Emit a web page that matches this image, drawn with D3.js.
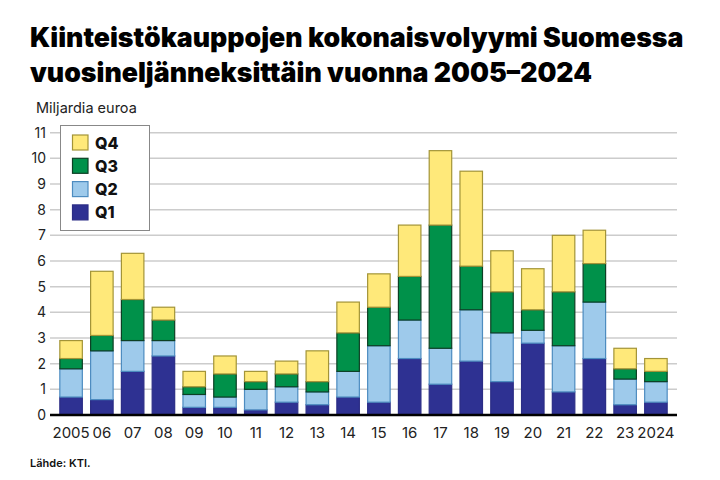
<!DOCTYPE html>
<html><head><meta charset="utf-8">
<script src="https://cdn.jsdelivr.net/npm/d3@7"></script>
<style>body{margin:0;background:#fff}svg{display:block}</style>
</head><body>
<svg id="c" width="720" height="480"></svg>
<script>
const years = ["2005","06","07","08","09","10","11","12","13","14","15","16","17","18","19","20","21","22","23","2024"];
const q1 = [0.7,0.6,1.7,2.3,0.3,0.3,0.2,0.5,0.4,0.7,0.5,2.2,1.2,2.1,1.3,2.8,0.9,2.2,0.4,0.5];
const q2 = [1.1,1.9,1.2,0.6,0.5,0.4,0.8,0.6,0.5,1.0,2.2,1.5,1.4,2.0,1.9,0.5,1.8,2.2,1.0,0.8];
const q3 = [0.4,0.6,1.6,0.8,0.3,0.9,0.3,0.5,0.4,1.5,1.5,1.7,4.8,1.7,1.6,0.8,2.1,1.5,0.4,0.4];
const q4 = [0.7,2.5,1.8,0.5,0.6,0.7,0.4,0.5,1.2,1.2,1.3,2.0,2.9,3.7,1.6,1.6,2.2,1.3,0.8,0.5];
const yTicks = [0,1,2,3,4,5,6,7,8,9,10,11];
const keys = ["Q1","Q2","Q3","Q4"];
const fills = {Q1:"#2e3192",Q2:"#9ecaeb",Q3:"#00914a",Q4:"#ffe97a"};
const strokes = {Q1:"#2b2d85",Q2:"#4d8cc0",Q3:"#0d3f24",Q4:"#a39437"};

const rows = years.map((y,i)=>({year:y,Q1:q1[i],Q2:q2[i],Q3:q3[i],Q4:q4[i]}));
const svg = d3.select("#c");
const x = d3.scaleBand().domain(years).range([50,677]).paddingInner(0.23).paddingOuter(0.3);
const y = d3.scaleLinear().domain([0,11]).range([415,132.7]);

svg.append("text").attr("x",30).attr("y",47).attr("font-family","Inter").attr("font-weight",900)
  .attr("font-size",26.7).attr("fill","#000").text("Kiinteistökauppojen kokonaisvolyymi Suomessa");
svg.append("text").attr("x",30).attr("y",82).attr("font-family","Inter").attr("font-weight",900)
  .attr("font-size",26.7).attr("fill","#000").text("vuosineljänneksittäin vuonna 2005–2024");

svg.append("text").attr("x",36).attr("y",113).attr("font-family","Inter").attr("font-size",14.5)
  .attr("fill","#222").text("Miljardia euroa");

svg.append("g").selectAll("line").data(yTicks.filter(d=>d>0)).join("line")
  .attr("x1",50).attr("x2",677).attr("y1",d=>y(d)).attr("y2",d=>y(d))
  .attr("stroke","#cccccc").attr("stroke-width",1.5);

const ya = svg.append("g").attr("transform","translate(50,0)")
  .call(d3.axisLeft(y).tickValues(yTicks).tickSize(0).tickPadding(4));
ya.select(".domain").remove();
ya.selectAll("text").attr("font-family","Inter").attr("font-size",14).attr("fill","#222");

const stack = d3.stack().keys(keys)(rows);
svg.append("g").selectAll("g").data(stack).join("g")
  .attr("fill",d=>fills[d.key]).attr("stroke",d=>strokes[d.key]).attr("stroke-width",1.2)
  .selectAll("rect").data(d=>d).join("rect")
  .attr("x",d=>x(d.data.year)+0.6).attr("width",x.bandwidth()-1.2)
  .attr("y",d=>y(d[1])).attr("height",d=>y(d[0])-y(d[1]));

svg.append("line").attr("x1",50).attr("x2",677).attr("y1",y(0)).attr("y2",y(0))
  .attr("stroke","#000").attr("stroke-width",2.5);

const xa = svg.append("g").attr("transform",`translate(0,${y(0)})`)
  .call(d3.axisBottom(x).tickSize(0).tickPadding(12));
xa.select(".domain").remove();
xa.selectAll("text").attr("font-family","Inter").attr("font-size",15).attr("fill","#222");

const lg = svg.append("g");
lg.append("rect").attr("x",60.5).attr("y",125.5).attr("width",89).attr("height",105)
  .attr("fill","#fff").attr("stroke","#888").attr("stroke-width",1);
const lk = ["Q4","Q3","Q2","Q1"];
const li = lg.selectAll("g.li").data(lk).join("g").attr("class","li")
  .attr("transform",(d,i)=>`translate(72.5,${135+i*23.3})`);
li.append("rect").attr("width",15.5).attr("height",15).attr("fill",d=>fills[d]).attr("stroke",d=>strokes[d]).attr("stroke-width",1.2);
li.append("text").attr("x",22.5).attr("y",13.5).attr("font-family","Inter").attr("font-weight",800)
  .attr("font-size",16).attr("fill","#111").text(d=>d);

svg.append("text").attr("x",30).attr("y",467).attr("font-family","Inter").attr("font-weight",600)
  .attr("font-size",11).attr("fill","#111").text("Lähde: KTI.");
</script>
</body></html>
